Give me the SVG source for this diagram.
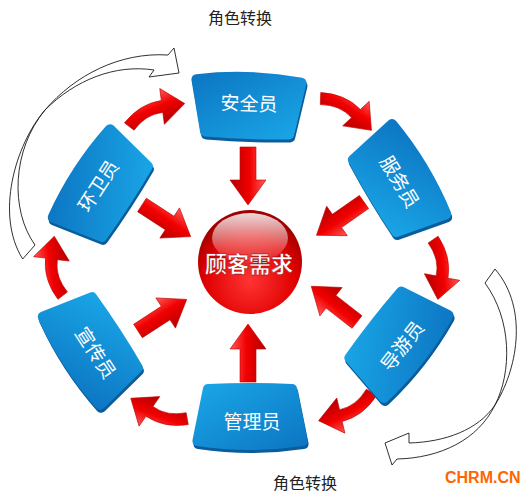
<svg xmlns="http://www.w3.org/2000/svg" width="532" height="496" viewBox="0 0 532 496">
<style>
.bevel{fill:#0a5c9c}
.tile{fill:url(#tileG)}
.tt{font-family:"Noto Sans CJK SC","Noto Sans",sans-serif;font-size:19px;fill:#ffffff;text-anchor:middle;dominant-baseline:central}
.ra{fill:url(#redG);stroke:#c00000;stroke-width:0.6}
.wa{fill:#ffffff;stroke:#1a1a1a;stroke-width:0.9;stroke-linejoin:miter}
.cap{font-family:"Noto Sans CJK SC","Noto Sans",sans-serif;font-size:16px;fill:#222;text-anchor:middle}
</style>
<defs>
<linearGradient id="tileG" x1="0" y1="0" x2="1" y2="1">
<stop offset="0" stop-color="#0c74c2"/>
<stop offset="1" stop-color="#1aa8e8"/>
</linearGradient>
<linearGradient id="redG" x1="0" y1="0" x2="0" y2="1">
<stop offset="0" stop-color="#ff5a5a"/>
<stop offset="0.45" stop-color="#f20000"/>
<stop offset="1" stop-color="#b30000"/>
</linearGradient>
<radialGradient id="ballG" cx="0.5" cy="0.68" r="0.62">
<stop offset="0" stop-color="#ff3434"/>
<stop offset="0.7" stop-color="#e00000"/>
<stop offset="1" stop-color="#a00000"/>
</radialGradient>
<linearGradient id="glossG" x1="0" y1="0" x2="0" y2="1">
<stop offset="0" stop-color="#ffffff" stop-opacity="0.85"/>
<stop offset="1" stop-color="#ffffff" stop-opacity="0.04"/>
</linearGradient>
<path id="tile" d="M -53,-32 Q 0,-40 53,-32 Q 58,-31 57.5,-26 L 47,26 Q 46,30 42,30 Q 0,32 -42,30 Q -46,30 -47,26 L -57.5,-26 Q -58,-31 -53,-32 Z"/>
<path id="sArrow" d="M0,-8 L33,-8 L33,-18 L58,0 L33,18 L33,8 L0,8 Z"/>
<path id="cArrow" d="M -31,-1.2 Q -9.7,-13 11.6,-7.8 L 14.7,-19.4 L 32,4 L 5.3,15.4 L 8.4,3.8 Q -8.1,-1.1 -25,9.2 Z"/>
</defs>
<rect width="532" height="496" fill="#ffffff"/>

<g id="connectors">
<!-- role switch outline arrows -->
<path class="wa" d="M 35,245 C 10,210 12,150 45,110 C 75,75 120,52 168,55 L 174,48 L 179,73 L 149,77 L 154,70 C 115,64 75,80 45,110 C 15,145 -5,215 22.7,259 Z"/>
<path class="wa" d="M 485,283 C 512,320 512,372 495,405 C 478,440 440,458 397,459 L 392,465 L 385,443 L 409,433 L 409,443 C 445,442 478,430 495,405 C 516,372 530,310 495,269 Z"/>
<!-- circular flow arrows -->
<use href="#cArrow" class="ra" transform="translate(153.6,112.1) rotate(-22.5)"/>
<use href="#cArrow" class="ra" transform="translate(346.4,110) rotate(32)"/>
<use href="#cArrow" class="ra" transform="translate(439.3,267.2) rotate(85.5)"/>
<use href="#cArrow" class="ra" transform="translate(348.7,409.1) rotate(151.8)"/>
<use href="#cArrow" class="ra" transform="translate(159.5,412.9) rotate(199.9)"/>
<use href="#cArrow" class="ra" transform="translate(54.8,268.5) rotate(262)"/>
<!-- arrows to the centre -->
<use href="#sArrow" class="ra" transform="translate(248,147) rotate(90)"/>
<use href="#sArrow" class="ra" transform="translate(248,382) rotate(-90)"/>
<use href="#sArrow" class="ra" transform="translate(364,202) rotate(145)"/>
<use href="#sArrow" class="ra" transform="translate(357,322) rotate(218)"/>
<use href="#sArrow" class="ra" transform="translate(138,331) rotate(-33)"/>
<use href="#sArrow" class="ra" transform="translate(142,205) rotate(33)"/>
</g>

<g id="node-center">
<circle cx="250" cy="262" r="52" fill="url(#ballG)"/>
<ellipse cx="250" cy="238" rx="38" ry="25" fill="url(#glossG)"/>
<text x="249" y="272" font-family="'Noto Sans CJK SC','Noto Sans',sans-serif" font-size="22" font-weight="bold" fill="#ffffff" text-anchor="middle" stroke="#8a0000" stroke-width="0.4">顾客需求</text>
</g>

<g id="node-anquan">
<use href="#tile" class="bevel" transform="translate(249,111) rotate(2)"/>
<use href="#tile" class="tile" transform="translate(248,108) rotate(2)"/>
<text class="tt" transform="translate(249,102) rotate(2)">安全员</text>
</g>

<g id="node-fuwu">
<use href="#tile" class="bevel" transform="translate(397,186) rotate(59)"/>
<use href="#tile" class="tile" transform="translate(396,183) rotate(59)"/>
<text class="tt" transform="translate(401,181) rotate(59)">服务员</text>
</g>

<g id="node-daoyou">
<use href="#tile" class="bevel" transform="translate(396,343) rotate(128)"/>
<use href="#tile" class="tile" transform="translate(395,340) rotate(128)"/>
<text class="tt" transform="translate(401,345) rotate(-52)">导游员</text>
</g>

<g id="node-guanli">
<use href="#tile" class="bevel" transform="translate(251,417) rotate(180)"/>
<use href="#tile" class="tile" transform="translate(250,414) rotate(180)"/>
<text class="tt" transform="translate(252,420)">管理员</text>
</g>

<g id="node-xuanchuan">
<use href="#tile" class="bevel" transform="translate(95,349) rotate(-123)"/>
<use href="#tile" class="tile" transform="translate(94,346) rotate(-123)"/>
<text class="tt" transform="translate(97,352) rotate(57)">宣传员</text>
</g>

<g id="node-huanwei">
<use href="#tile" class="bevel" transform="translate(105,191) rotate(-57)"/>
<use href="#tile" class="tile" transform="translate(104,188) rotate(-57)"/>
<text class="tt" transform="translate(97,185) rotate(-57)">环卫员</text>
</g>

<text class="cap" x="240" y="24">角色转换</text>
<text class="cap" x="305" y="489">角色转换</text>
<text x="445" y="483" font-family="'Liberation Sans',Arial,sans-serif" font-size="16" font-weight="bold" fill="#ff6600">CHRM.CN</text>
</svg>
